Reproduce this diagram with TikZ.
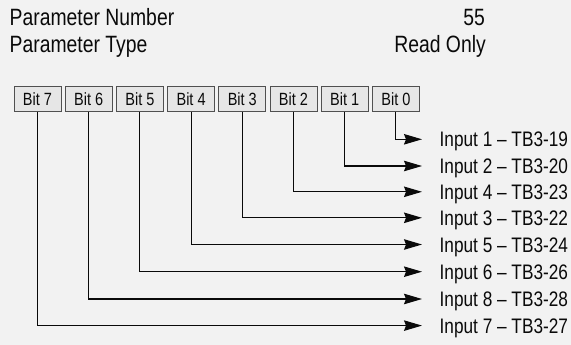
\documentclass[tikz,border=0pt]{standalone}
\usepackage{fontspec}
\setmainfont{Liberation Sans}[FakeStretch=0.82]
\usetikzlibrary{positioning,arrows.meta}
\definecolor{bgcol}{HTML}{F2F2F2}
\definecolor{boxfill}{HTML}{E6E6E6}
\definecolor{boxline}{HTML}{505050}
\definecolor{ink}{HTML}{0A0A0A}
\begin{document}
\begin{tikzpicture}[
  x=1pt, y=-1pt,
  node distance=4.2pt,
  bitbox/.style={
    draw=boxline,
    fill=boxfill,
    line width=0.9pt,
    outer sep=0pt,
    inner sep=0pt,
    minimum width=47pt,
    minimum height=25pt,
    text height=12.7pt,
    text depth=0pt,
    text=ink,
    font=\fontsize{17.7}{18}\selectfont
  },
  inlabel/.style={
    anchor=west,
    inner sep=0pt,
    text height=15pt,
    text depth=0pt,
    text=ink,
    font=\fontsize{21}{22}\selectfont
  },
  head/.style={
    inner sep=0pt,
    text=ink,
    font=\fontsize{23.6}{24}\selectfont
  },
  wire/.style={
    draw=ink,
    line width=1.1pt,
    -{Stealth[length=18pt, width=10.5pt, inset=2pt]},
    shorten >=17.5pt
  }
]
\fill[bgcol] (0,0) rectangle (571,345);
\useasboundingbox (0,0) rectangle (571,345);

% header
\node (pnum) [head, anchor=base west] at (9.5,26) {Parameter Number};
\node (pnumval) [head, anchor=base east] at (485,25.5) {55};
\node (ptype) [head, anchor=base west] at (9.5,53) {Parameter Type};
\node (ptypeval) [head, anchor=base east] at (486,53) {Read Only};

% bit boxes
\node (b7) [bitbox] at (37.5,99.2) {Bit 7};
\node (b6) [bitbox, right=of b7] {Bit 6};
\node (b5) [bitbox, right=of b6] {Bit 5};
\node (b4) [bitbox, right=of b5] {Bit 4};
\node (b3) [bitbox, right=of b4] {Bit 3};
\node (b2) [bitbox, right=of b3] {Bit 2};
\node (b1) [bitbox, right=of b2] {Bit 1};
\node (b0) [bitbox, right=of b1] {Bit 0};

% inputs
\node (in0) [inlabel] at (439.5,139.3) {Input 1 – TB3-19};
\node (in1) [inlabel] at (439.5,166) {Input 2 – TB3-20};
\node (in2) [inlabel] at (439.5,191.8) {Input 4 – TB3-23};
\node (in3) [inlabel] at (439.5,217.8) {Input 3 – TB3-22};
\node (in4) [inlabel] at (439.5,244.5) {Input 5 – TB3-24};
\node (in5) [inlabel] at (439.5,271.7) {Input 6 – TB3-26};
\node (in6) [inlabel] at (439.5,299) {Input 8 – TB3-28};
\node (in7) [inlabel] at (439.5,325.6) {Input 7 – TB3-27};

\draw[wire] (b0.south) |- (in0.west);
\draw[wire] (b1.south) |- (in1.west);
\draw[wire] (b2.south) |- (in2.west);
\draw[wire] (b3.south) |- (in3.west);
\draw[wire] (b4.south) |- (in4.west);
\draw[wire] (b5.south) |- (in5.west);
\draw[wire] (b6.south) |- (in6.west);
\draw[wire] (b7.south) |- (in7.west);
\end{tikzpicture}
\end{document}
